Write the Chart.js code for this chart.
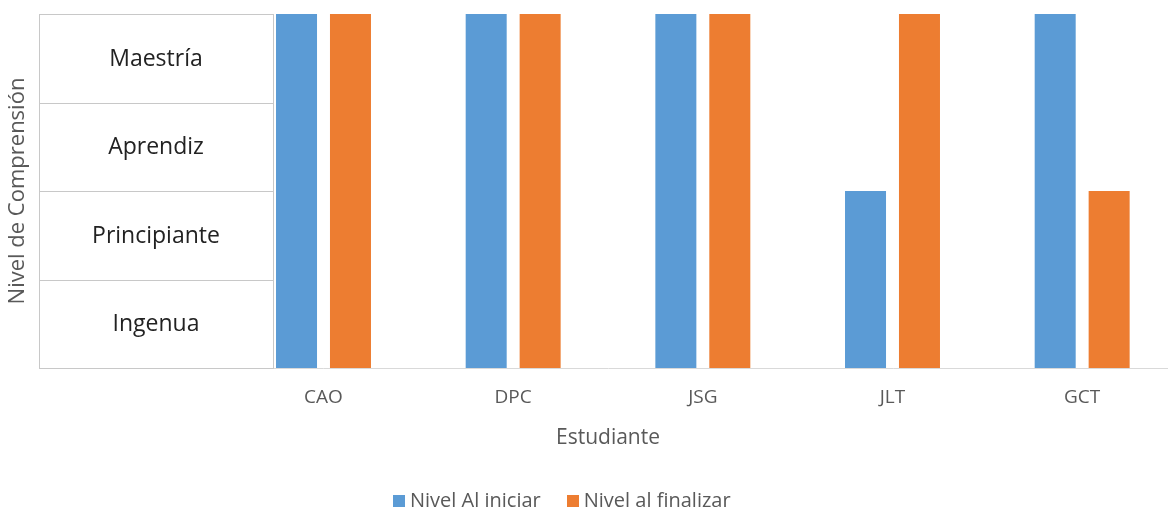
<!DOCTYPE html>
<html lang="es">
<head>
    <meta charset="UTF-8">
    <title>Nivel de Comprensión</title>
    <script src="https://cdn.jsdelivr.net/npm/chart.js"></script>
    <style>
        body {
            margin: 0;
            padding: 0;
            background: white;
            font-family: "Open Sans", sans-serif;
        }
        .wrap {
            position: relative;
            width: 1168px;
            height: 509px;
            overflow: hidden;
        }
        #chart {
            position: absolute;
            left: 0;
            top: 0;
        }
        .legend {
            position: absolute;
            top: 486px;
            left: 393px;
            font-size: 20px;
            line-height: 27px;
            color: #595959;
            white-space: nowrap;
        }
        .legend span.box {
            display: inline-block;
            width: 12px;
            height: 12px;
            margin-right: 5px;
            vertical-align: 0px;
        }
        .legend .item { margin-right: 26px; }
    </style>
</head>
<body>
    <div class="wrap">
        <canvas id="chart" width="1186" height="509"></canvas>
        <div class="legend" id="legend"></div>
    </div>

    <script>
        // data (first slot sits under the level table)
        const students = ['', 'CAO', 'DPC', 'JSG', 'JLT', 'GCT'];
        const nivelInicial = [null, 4, 4, 4, 2, 4];
        const nivelFinal = [null, 4, 4, 4, 4, 2];
        const niveles = ['Ingenua', 'Principiante', 'Aprendiz', 'Maestría'];
        const seriesNames = ['Nivel Al iniciar', 'Nivel al finalizar'];
        const colors = ['#5B9BD5', '#ED7D31'];

        // draws the level table on the left side of the plot
        const levelTable = {
            id: 'levelTable',
            beforeDatasetsDraw(chart) {
                const ctx = chart.ctx;
                const y = chart.scales.y;
                const left = chart.chartArea.left;
                const right = 273;
                ctx.save();
                ctx.strokeStyle = '#c8c8c8';
                ctx.lineWidth = 1;
                ctx.font = '23px "Open Sans", sans-serif';
                ctx.fillStyle = '#222222';
                ctx.textAlign = 'center';
                ctx.textBaseline = 'middle';
                niveles.forEach((name, i) => {
                    const y0 = Math.round(y.getPixelForValue(i)) + 0.5;
                    const y1 = Math.round(y.getPixelForValue(i + 1)) + 0.5;
                    ctx.strokeRect(left + 0.5, y1, right - left, y0 - y1);
                    ctx.fillText(name, (left + right) / 2, (y0 + y1) / 2);
                });
                ctx.restore();
            }
        };

        const ctx = document.getElementById('chart').getContext('2d');
        new Chart(ctx, {
            type: 'bar',
            data: {
                labels: students,
                datasets: [{
                    label: seriesNames[0],
                    data: nivelInicial,
                    backgroundColor: colors[0]
                }, {
                    label: seriesNames[1],
                    data: nivelFinal,
                    backgroundColor: colors[1]
                }]
            },
            options: {
                responsive: false,
                animation: false,
                devicePixelRatio: 1,
                categoryPercentage: 0.569,
                barPercentage: 0.76,
                layout: { padding: { top: 14, bottom: 54, right: 9 } },
                plugins: {
                    legend: { display: false },
                    tooltip: { enabled: false }
                },
                scales: {
                    x: {
                        grid: { display: false },
                        border: { color: '#d9d9d9' },
                        ticks: {
                            color: '#595959',
                            font: { family: 'Open Sans', size: 19 },
                            padding: 10
                        },
                        title: {
                            display: true,
                            text: 'Estudiante',
                            color: '#595959',
                            font: { family: 'Open Sans', size: 21 },
                            padding: { top: 7, bottom: 4 }
                        }
                    },
                    y: {
                        min: 0,
                        max: 4,
                        grid: { display: false },
                        border: { display: false },
                        ticks: { display: false },
                        title: {
                            display: true,
                            text: 'Nivel de Comprensión',
                            color: '#595959',
                            font: { family: 'Open Sans', size: 22 },
                            padding: { top: 5, bottom: 2 }
                        },
                        afterFit(scale) { scale.width = 39; }
                    }
                }
            },
            plugins: [levelTable]
        });

        // html legend
        const legend = document.getElementById('legend');
        seriesNames.forEach((name, i) => {
            const item = document.createElement('span');
            item.className = 'item';
            item.innerHTML = '<span class="box" style="background:' + colors[i] + '"></span>' + name;
            legend.appendChild(item);
        });
    </script>
</body>
</html>
